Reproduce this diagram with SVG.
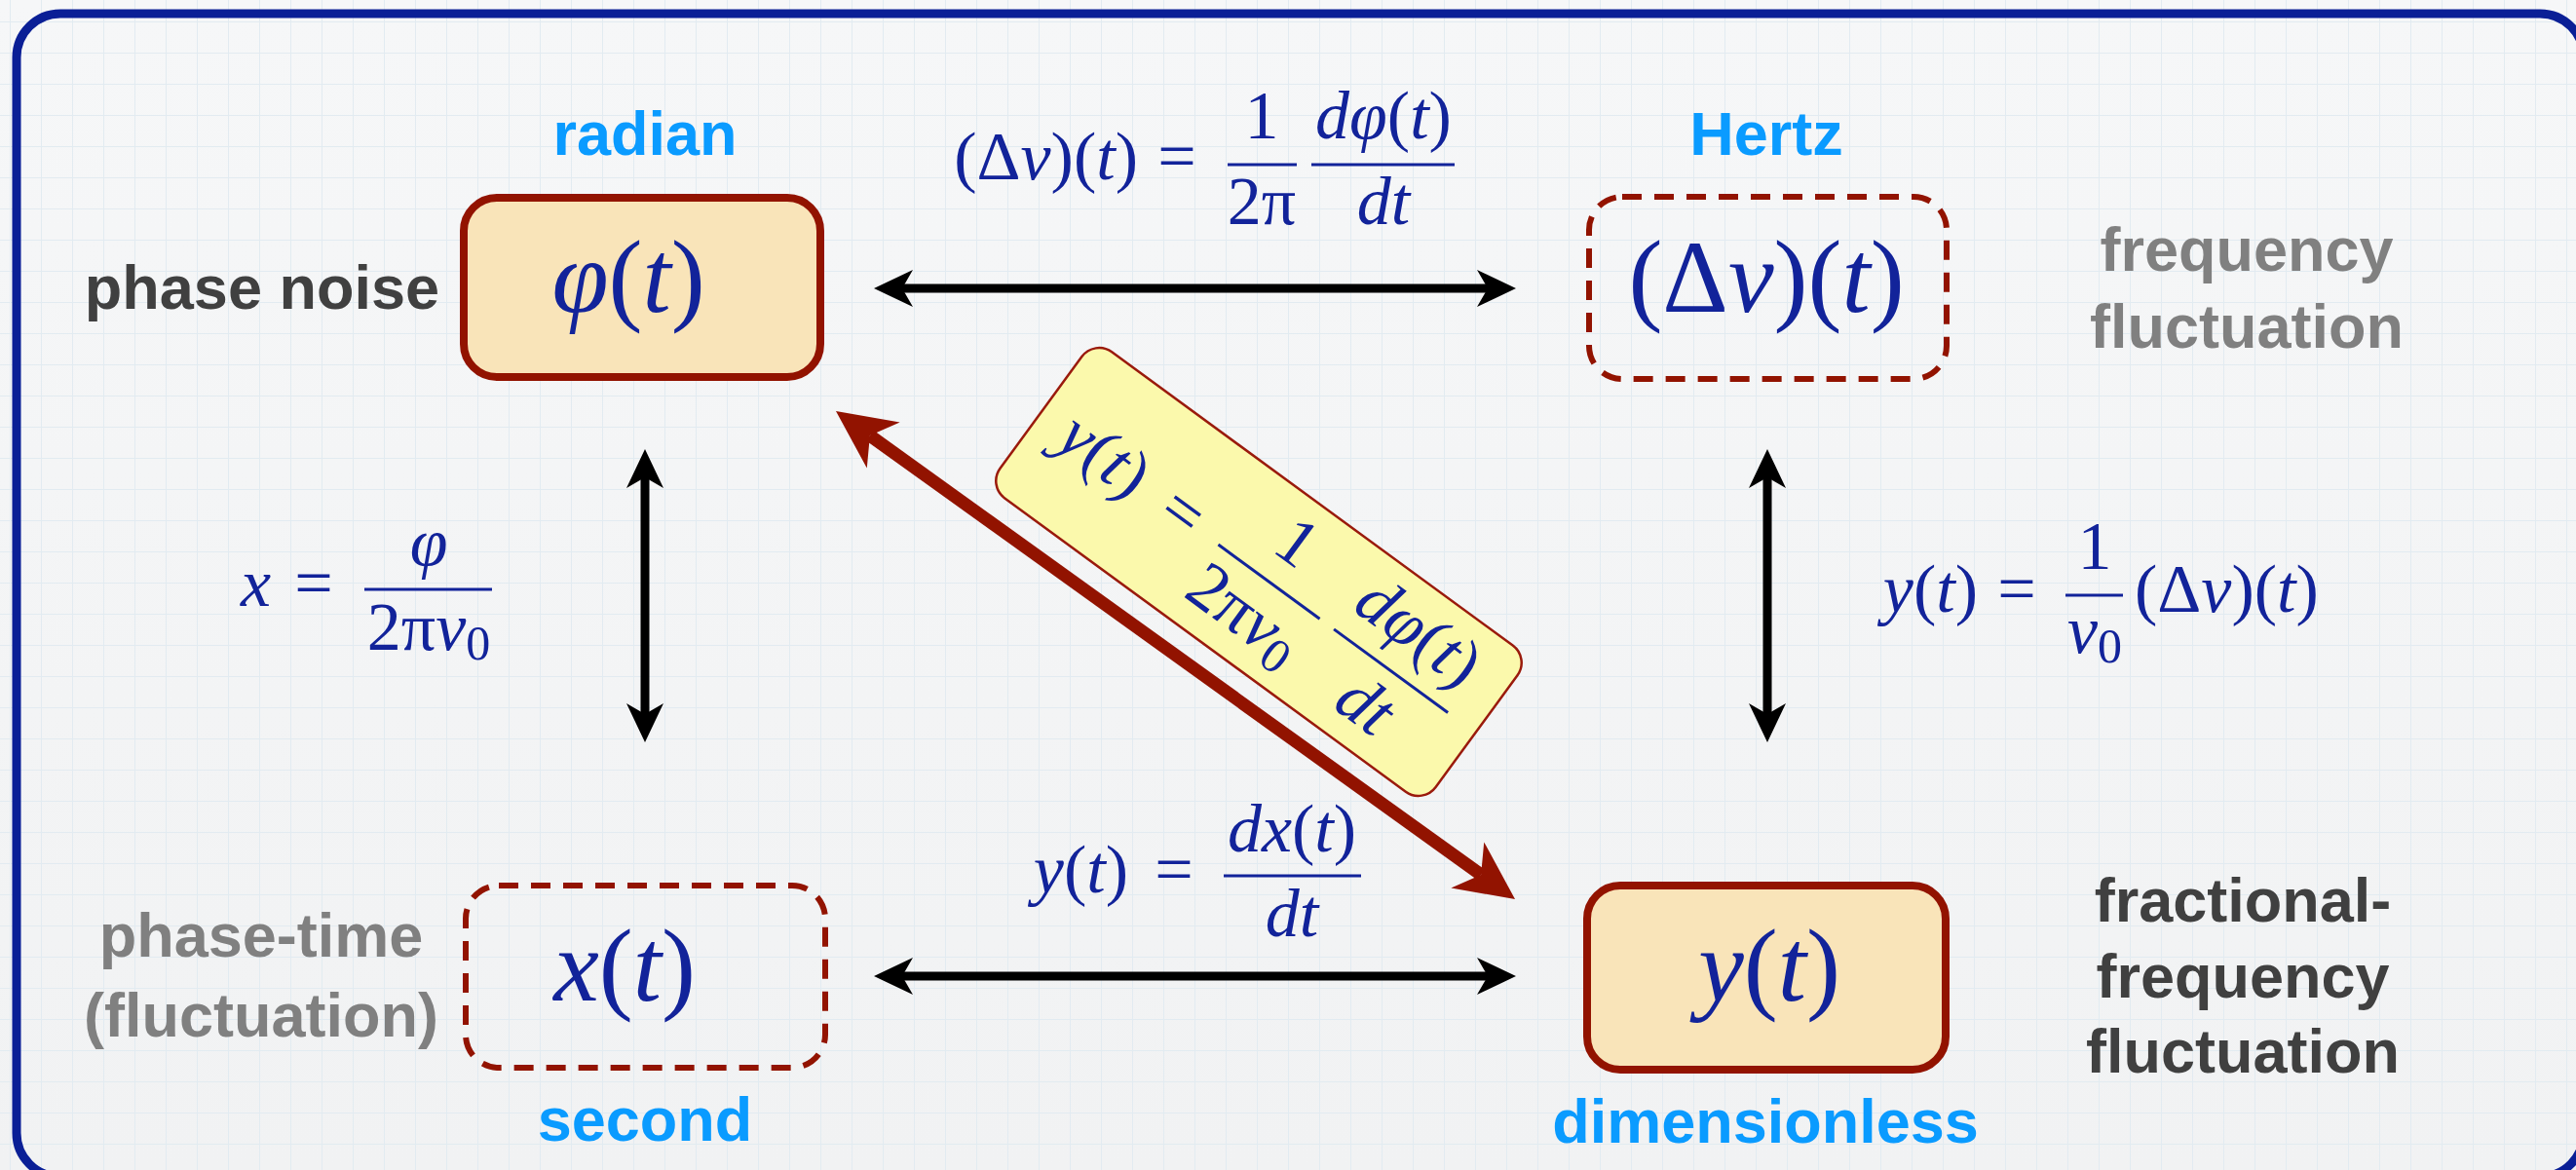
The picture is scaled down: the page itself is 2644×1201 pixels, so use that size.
<svg xmlns="http://www.w3.org/2000/svg" width="2644" height="1201" viewBox="0 0 2644 1201">
<defs>
<pattern id="grid" patternUnits="userSpaceOnUse" x="10" y="22" width="32" height="32">
<path d="M0,0 H32 M0,0 V32" fill="none" stroke="#e2ebf1" stroke-width="2"/>
</pattern>
<linearGradient id="bg" x1="0" y1="0" x2="0" y2="1">
<stop offset="0" stop-color="#f6f7f8"/>
<stop offset="1" stop-color="#f1f2f3"/>
</linearGradient>
<marker id="ah" markerUnits="userSpaceOnUse" markerWidth="46" markerHeight="46" viewBox="0 -23 46 46" refX="11" refY="0" orient="auto-start-reverse">
<path d="M0,-19 L40,0 L0,19 L11,0 Z" fill="#000"/>
</marker>
<marker id="ahr" markerUnits="userSpaceOnUse" markerWidth="66" markerHeight="66" viewBox="0 -33 66 66" refX="17" refY="0" orient="auto-start-reverse">
<path d="M0,-29 L60,0 L0,29 L17,0 Z" fill="#921300"/>
</marker>
</defs>
<style>
.lbl{font-family:"Liberation Sans",Arial,sans-serif;font-weight:bold;font-size:63px}
.unit{fill:#0a9bff}
.dark{fill:#404040}
.grey{fill:#808080}
.m{font-family:"Liberation Serif","Times New Roman",serif;fill:#12239a;font-size:70px}
.big{font-size:105px}
.i{font-style:italic}
.sub{font-size:50px}
.node{fill:#f9e4b9;stroke:#921300;stroke-width:8}
.dash{fill:none;stroke:#921300;stroke-width:6;stroke-dasharray:20 13}
.bar{stroke:#12239a;stroke-width:3}
.arr{stroke:#000;stroke-width:9;fill:none;marker-start:url(#ah);marker-end:url(#ah)}
.arrr{stroke:#921300;stroke-width:13;fill:none;marker-start:url(#ahr);marker-end:url(#ahr)}
</style>
<rect width="2644" height="1201" fill="url(#bg)"/>
<rect width="2644" height="1201" fill="url(#grid)"/>
<rect x="17" y="14" width="2635" height="1194" rx="45" fill="none" stroke="#0a1f96" stroke-width="9"/>

<g id="connectors">
<line class="arr" x1="926" y1="296" x2="1527" y2="296"/>
<line class="arr" x1="926" y1="1002" x2="1527" y2="1002"/>
<line class="arr" x1="662" y1="490" x2="662" y2="733"/>
<line class="arr" x1="1814" y1="490" x2="1814" y2="733"/>
<line class="arrr" x1="892.9" y1="447.1" x2="1520.1" y2="897.9"/>
</g>

<g id="edge-labels">
<g id="eq-top">
<text class="m" x="1168" y="184" text-anchor="end">(Δ<tspan class="i">ν</tspan>)(<tspan class="i">t</tspan>)</text>
<text class="m" x="1208" y="184" text-anchor="middle">=</text>
<line class="bar" x1="1260" y1="169" x2="1331" y2="169"/>
<text class="m" x="1295" y="142" text-anchor="middle">1</text>
<text class="m" x="1295" y="230" text-anchor="middle">2π</text>
<line class="bar" x1="1346" y1="169" x2="1493" y2="169"/>
<text class="m i" x="1420" y="142" text-anchor="middle">dφ<tspan font-style="normal">(</tspan>t<tspan font-style="normal">)</tspan></text>
<text class="m i" x="1420" y="230" text-anchor="middle">dt</text>
</g>
<g id="eq-left">
<text class="m i" x="247" y="622">x</text>
<text class="m" x="322" y="622" text-anchor="middle">=</text>
<line class="bar" x1="374" y1="605" x2="505" y2="605"/>
<text class="m i" x="440" y="580" text-anchor="middle">φ</text>
<text class="m" x="440" y="667" text-anchor="middle">2π<tspan class="i">ν</tspan><tspan class="sub" dy="10">0</tspan></text>
</g>
<g id="eq-right">
<text class="m" x="2030" y="628" text-anchor="end"><tspan class="i">y</tspan>(<tspan class="i">t</tspan>)</text>
<text class="m" x="2070" y="628" text-anchor="middle">=</text>
<line class="bar" x1="2120" y1="611" x2="2179" y2="611"/>
<text class="m" x="2150" y="584" text-anchor="middle">1</text>
<text class="m" x="2150" y="670" text-anchor="middle"><tspan class="i">ν</tspan><tspan class="sub" dy="10">0</tspan></text>
<text class="m" x="2191" y="628">(Δ<tspan class="i">ν</tspan>)(<tspan class="i">t</tspan>)</text>
</g>
<g id="eq-bottom">
<text class="m" x="1158" y="916" text-anchor="end"><tspan class="i">y</tspan>(<tspan class="i">t</tspan>)</text>
<text class="m" x="1205" y="916" text-anchor="middle">=</text>
<line class="bar" x1="1256" y1="899" x2="1397" y2="899"/>
<text class="m" x="1326" y="874" text-anchor="middle"><tspan class="i">dx</tspan>(<tspan class="i">t</tspan>)</text>
<text class="m i" x="1326" y="961" text-anchor="middle">dt</text>
</g>
<g id="eq-diag" transform="translate(1292,587) rotate(36.2)">
<rect x="-277" y="-93" width="554" height="186" rx="22" fill="#fbf9ac" stroke="#9a1a0c" stroke-width="2.5"/>
<text class="m" x="-150" y="19" text-anchor="end"><tspan class="i">y</tspan>(<tspan class="i">t</tspan>)</text>
<text class="m" x="-99" y="19" text-anchor="middle">=</text>
<line class="bar" x1="-50" y1="2" x2="79" y2="2"/>
<text class="m" x="14" y="-25" text-anchor="middle">1</text>
<text class="m" x="14" y="66" text-anchor="middle">2π<tspan class="i">ν</tspan><tspan class="sub" dy="10">0</tspan></text>
<line class="bar" x1="97" y1="2" x2="242" y2="2"/>
<text class="m" x="169" y="-25" text-anchor="middle"><tspan class="i">dφ</tspan>(<tspan class="i">t</tspan>)</text>
<text class="m i" x="169" y="68" text-anchor="middle">dt</text>
</g>
</g>

<g id="node-phase">
<rect class="node" x="476" y="203" width="366" height="184" rx="34"/>
<text class="m big" x="645" y="320" text-anchor="middle"><tspan class="i">φ</tspan>(<tspan class="i">t</tspan>)</text>
<text class="lbl unit" x="662" y="159" text-anchor="middle">radian</text>
<text class="lbl dark" x="451" y="317" text-anchor="end">phase noise</text>
</g>

<g id="node-freq">
<rect class="dash" x="1631" y="202" width="367" height="187" rx="34"/>
<text class="m big" x="1813" y="320" text-anchor="middle">(Δ<tspan class="i">ν</tspan>)(<tspan class="i">t</tspan>)</text>
<text class="lbl unit" x="1813" y="159" text-anchor="middle">Hertz</text>
<text class="lbl grey" x="2306" y="278" text-anchor="middle">frequency</text>
<text class="lbl grey" x="2306" y="357" text-anchor="middle">fluctuation</text>
</g>

<g id="node-phasetime">
<rect class="dash" x="478" y="909" width="369" height="187" rx="34"/>
<text class="m big" x="641" y="1027" text-anchor="middle"><tspan class="i">x</tspan>(<tspan class="i">t</tspan>)</text>
<text class="lbl grey" x="268" y="982" text-anchor="middle">phase-time</text>
<text class="lbl grey" x="268" y="1064" text-anchor="middle">(fluctuation)</text>
<text class="lbl unit" x="662" y="1171" text-anchor="middle">second</text>
</g>

<g id="node-fracfreq">
<rect class="node" x="1629" y="909" width="368" height="189" rx="34"/>
<text class="m big" x="1816" y="1027" text-anchor="middle"><tspan class="i">y</tspan>(<tspan class="i">t</tspan>)</text>
<text class="lbl dark" x="2302" y="946" text-anchor="middle">fractional-</text>
<text class="lbl dark" x="2302" y="1024" text-anchor="middle">frequency</text>
<text class="lbl dark" x="2302" y="1101" text-anchor="middle">fluctuation</text>
<text class="lbl unit" x="1812" y="1173" text-anchor="middle">dimensionless</text>
</g>
</svg>
